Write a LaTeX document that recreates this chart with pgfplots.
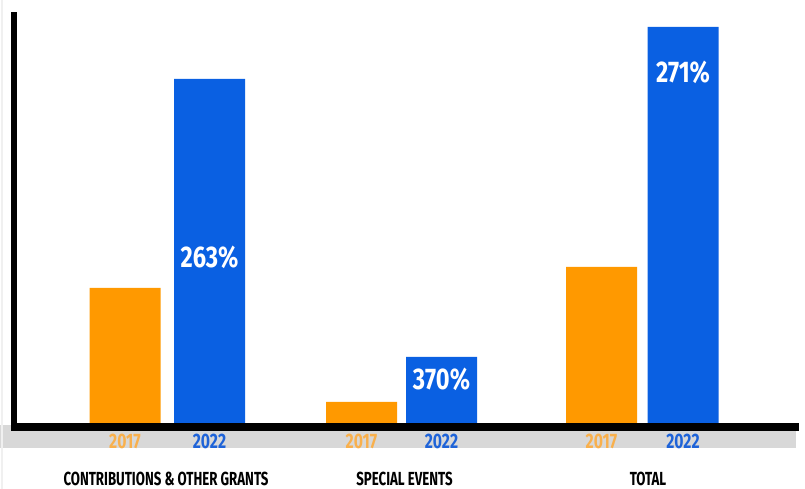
\documentclass[border=0pt]{standalone}
\usepackage{pgfplots}
\pgfplotsset{compat=1.18}
\usepackage{fontspec}
\newfontfamily\condA[FakeStretch=0.79]{Fira Sans}
\newfontfamily\condB[FakeStretch=0.75]{Fira Sans}
\newfontfamily\condC[FakeStretch=0.70]{Fira Sans}
\definecolor{orng}{HTML}{FF9900}
\definecolor{blu}{HTML}{0A60E2}
\definecolor{orngtxt}{HTML}{F9B04C}
\definecolor{blutxt}{HTML}{1E63D8}
\definecolor{band}{HTML}{D8D8D8}
\tikzset{
  pct/.style={white, font=\condA\bfseries\fontsize{30}{30}\selectfont},
  yr/.style={font=\condB\bfseries\fontsize{21}{21}\selectfont},
  cat/.style={black, inner sep=0pt, font=\condC\bfseries\fontsize{19}{19}\selectfont},
}
\begin{document}
\begin{tikzpicture}[x=1bp,y=1bp]
\path[use as bounding box] (0,0) rectangle (805,489);
% grey band behind the year labels
\fill[band] (0,41) rectangle (796,64);
\draw[gray!12, line width=2bp] (2,0) -- (2,489);
\begin{axis}[
    at={(14bp,62bp)}, anchor=south west,
    scale only axis, width=785bp, height=415bp,
    xmin=14, xmax=799, ymin=-4, ymax=411,
    axis lines=none, clip=false,
    ybar, bar width=71, bar shift=0pt,
  ]
  % 2017
  \addplot[fill=orng, draw=none] coordinates {(125,135) (361.5,21) (601.5,156)};
  % 2022
  \addplot[fill=blu, draw=none] coordinates {(209.5,344) (441.5,66) (683,396)};

  \node[pct] at (axis cs:209.5,166) {263\%};
  \node[pct] at (axis cs:441.5,44) {370\%};
  \node[pct] at (axis cs:683,351) {271\%};

  \node[yr, orngtxt] at (axis cs:125,-18.5) {2017};
  \node[yr, orngtxt] at (axis cs:361.5,-18.5) {2017};
  \node[yr, orngtxt] at (axis cs:601.5,-18.5) {2017};
  \node[yr, blutxt] at (axis cs:209.5,-18.5) {2022};
  \node[yr, blutxt] at (axis cs:441.5,-18.5) {2022};
  \node[yr, blutxt] at (axis cs:683,-18.5) {2022};

  \node[cat] at (axis cs:166,-56) {CONTRIBUTIONS \& OTHER GRANTS};
  \node[cat] at (axis cs:404.5,-56) {SPECIAL EVENTS};
  \node[cat] at (axis cs:648,-56) {TOTAL};
\end{axis}
% heavy axis lines
\draw[line width=6.5bp] (14,58) -- (14,477);
\draw[line width=8bp] (11,62) -- (799,62);
\end{tikzpicture}
\end{document}
